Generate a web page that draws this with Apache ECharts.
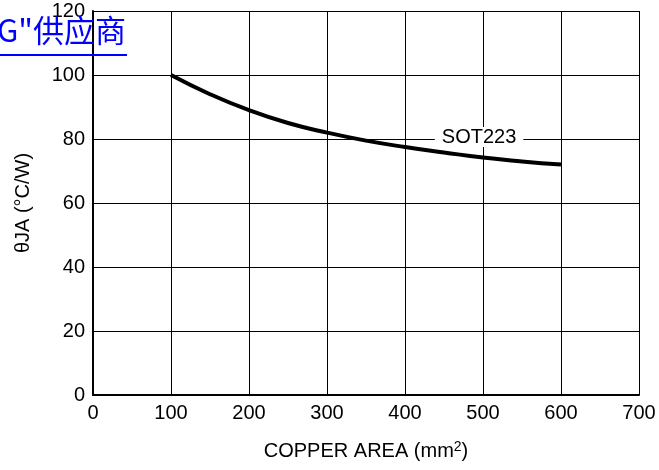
<!DOCTYPE html>
<html><head><meta charset="utf-8">
<script src="https://cdn.jsdelivr.net/npm/echarts@6/dist/echarts.min.js"></script>
<style>html,body{margin:0;padding:0;background:#fff}#c{width:659px;height:470px}</style>
</head><body><div id="c"></div>
<script>
const xValues = [100, 150, 200, 250, 300, 350, 400, 450, 500, 550, 600];
const thetaJA = [100, 94, 89, 85, 82, 79.5, 77.5, 75.8, 74.2, 73, 72];
const seriesName = 'SOT223';
const labelPos = [495, 80.6];
const xTicks = [0, 100, 200, 300, 400, 500, 600, 700];
const yTicks = [0, 20, 40, 60, 80, 100, 120];

const chart = echarts.init(document.getElementById('c'));
const font = 'Liberation Sans, Arial, Helvetica, sans-serif';
chart.setOption({
  animation: false,
  backgroundColor: '#fff',
  grid: {left: 93, right: 20, top: 11, bottom: 75, containLabel: false},
  xAxis: {
    type: 'value', min: xTicks[0], max: xTicks[xTicks.length - 1], interval: xTicks[1] - xTicks[0],
    name: '{a|COPPER AREA (mm}{s|2}{a|)}',
    nameLocation: 'middle', nameGap: 45,
    nameTextStyle: {rich: {a: {fontSize: 20, fontFamily: font, color: '#000'}, s: {fontSize: 14, fontFamily: font, color: '#000', verticalAlign: 'top', padding: [0, 0, 8, 0]}}},
    axisLine: {show: true, lineStyle: {color: '#000', width: 2}},
    axisTick: {show: false},
    axisLabel: {fontSize: 20, fontFamily: font, color: '#000', margin: 8},
    splitLine: {show: true, lineStyle: {color: '#000', width: 1}}
  },
  yAxis: {
    type: 'value', min: yTicks[0], max: yTicks[yTicks.length - 1], interval: yTicks[1] - yTicks[0],
    name: 'θJA (°C/W)', nameLocation: 'middle', nameGap: 60,
    nameTextStyle: {fontSize: 20, fontFamily: font, color: '#000'},
    axisLine: {show: true, lineStyle: {color: '#000', width: 2}},
    axisTick: {show: false},
    axisLabel: {fontSize: 20, fontFamily: font, color: '#000', margin: 8},
    splitLine: {show: true, lineStyle: {color: '#000', width: 1}}
  },
  series: [{
    name: seriesName, type: 'line', smooth: true, showSymbol: false,
    data: xValues.map((x, i) => [x, thetaJA[i]]),
    lineStyle: {color: '#000', width: 4},
    markPoint: {
      symbol: 'rect', symbolSize: 1, itemStyle: {color: 'rgba(0,0,0,0)'},
      data: [{coord: labelPos, value: seriesName}],
      label: {show: true, position: 'inside', formatter: seriesName, fontSize: 20, fontFamily: font, color: '#000', backgroundColor: '#fff', padding: [0, 7, 0, 7]}
    }
  }],
  graphic: [
    {type: 'text', x: 126, y: 15, z: 100, style: {text: 'G"供应商', font: '31px "Noto Sans CJK SC", Liberation Sans, sans-serif', fill: '#0000ff', align: 'right', textAlign: 'right'}},
    {type: 'line', z: 100, shape: {x1: 0, y1: 55, x2: 127, y2: 55}, style: {stroke: '#0000ff', lineWidth: 2}}
  ]
});
</script></body></html>
